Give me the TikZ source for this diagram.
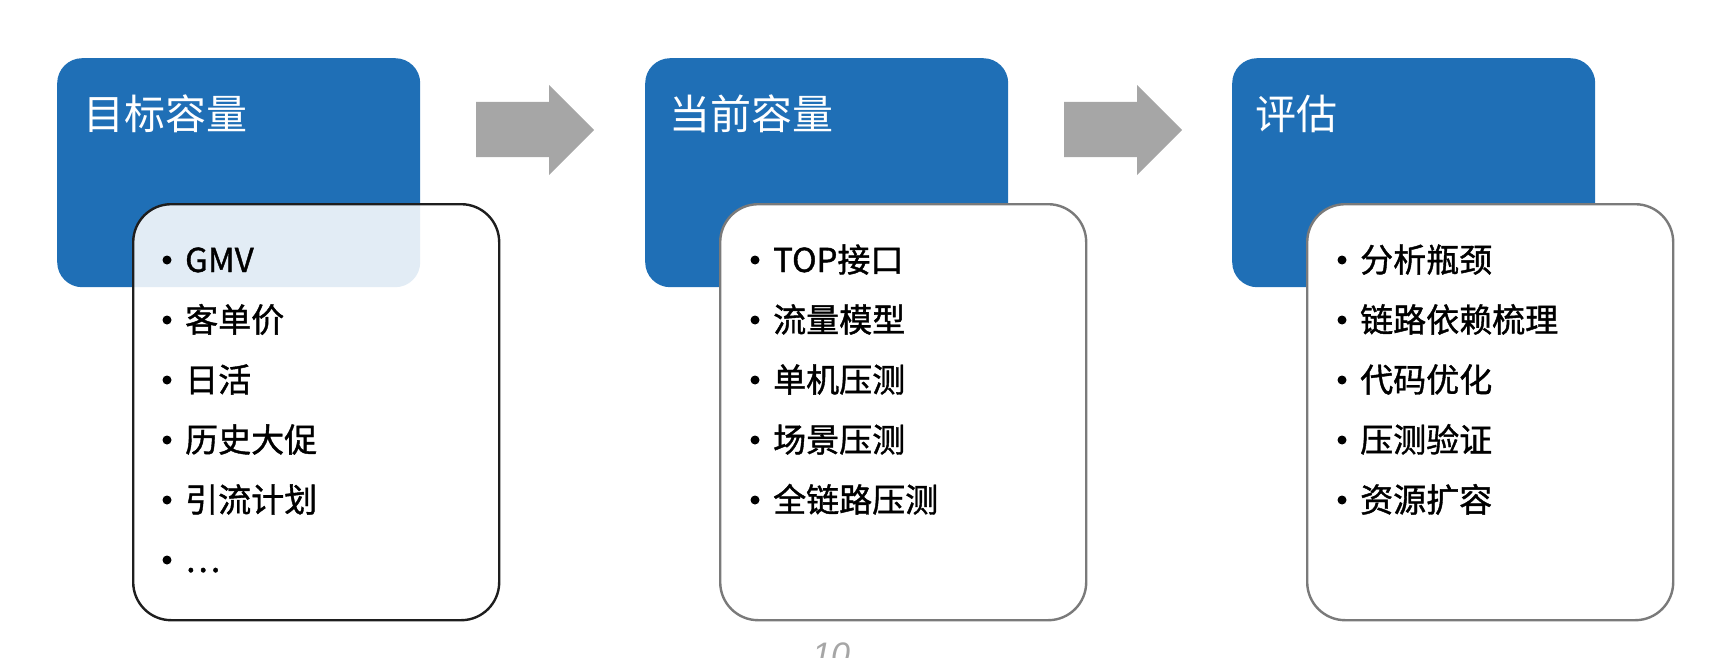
\documentclass[tikz,border=0pt]{standalone}
\usepackage{fontspec}
\setmainfont{Noto Sans CJK SC}
\newfontfamily\itemfont{Noto Sans CJK SC}[FakeBold=1.2]
\newfontfamily\pagefont{Liberation Sans}
\definecolor{boxblue}{HTML}{1F6FB6}
\definecolor{arrowgray}{HTML}{A6A6A6}
\definecolor{bordergray}{HTML}{7A7A7A}
\definecolor{borderdark}{HTML}{1E1E1E}
\tikzset{
  bluebox/.style={rectangle, fill=boxblue, draw=none, rounded corners=25pt,
    minimum width=363pt, minimum height=229pt, anchor=north west, inner sep=0pt},
  listbox/.style={rectangle, rounded corners=38pt, line width=2.4pt,
    minimum width=366pt, minimum height=416pt, anchor=north west, inner sep=0pt},
  listboxA/.style={listbox, draw=borderdark, fill=white, fill opacity=0.87},
  listboxB/.style={listbox, draw=bordergray, fill=white},
  titletext/.style={anchor=base west, inner sep=0pt, text=white,
    font=\fontsize{41pt}{49pt}\selectfont},
  itemtext/.style={anchor=base west, inner sep=0pt, text=black,
    font=\itemfont\fontsize{33pt}{40pt}\selectfont},
  bulletdot/.style={circle, fill=black, draw=none, minimum size=9pt, inner sep=0pt},
  blockarrow/.style={fill=arrowgray, draw=none}
}
\begin{document}
\begin{tikzpicture}[x=1pt,y=-1pt]
\useasboundingbox (0,0) rectangle (1736,658);

% blue header boxes
\node[bluebox] (b1) at (57,58) {};
\node[bluebox] (b2) at (645,58) {};
\node[bluebox] (b3) at (1232,58) {};

% block arrows
\foreach \x in {476,1064}{
  \fill[blockarrow] (\x,102) -- (\x+73,102) -- (\x+73,85) -- (\x+118,130)
    -- (\x+73,175) -- (\x+73,157) -- (\x,157) -- cycle;
}

% list boxes
\node[listboxA] (w1) at (132,203) {};
\node[listboxB] (w2) at (719,203) {};
\node[listboxB] (w3) at (1306,203) {};

% titles
\node[titletext] (t1) at (83,129) {目标容量};
\node[titletext] (t2) at (669,129) {当前容量};
\node[titletext] (t3) at (1255,129) {评估};

% items
\foreach \txt [count=\i] in {GMV,客单价,日活,历史大促,引流计划,…}{
  \node[bulletdot] (d1\i) at (167,200+60*\i) {};
  \node[itemtext] (i1\i) at (185,212+60*\i) {\txt};
}
\foreach \txt [count=\i] in {TOP接口,流量模型,单机压测,场景压测,全链路压测}{
  \node[bulletdot] (d2\i) at (755,200+60*\i) {};
  \node[itemtext] (i2\i) at (773,212+60*\i) {\txt};
}
\foreach \txt [count=\i] in {分析瓶颈,链路依赖梳理,代码优化,压测验证,资源扩容}{
  \node[bulletdot] (d3\i) at (1342,200+60*\i) {};
  \node[itemtext] (i3\i) at (1360,212+60*\i) {\txt};
}

% clipped page number
\node[anchor=base west, inner sep=0pt, text=arrowgray,
  font=\pagefont\itshape\fontsize{34pt}{40pt}\selectfont] (pg) at (812,666) {10};
\end{tikzpicture}
\end{document}
